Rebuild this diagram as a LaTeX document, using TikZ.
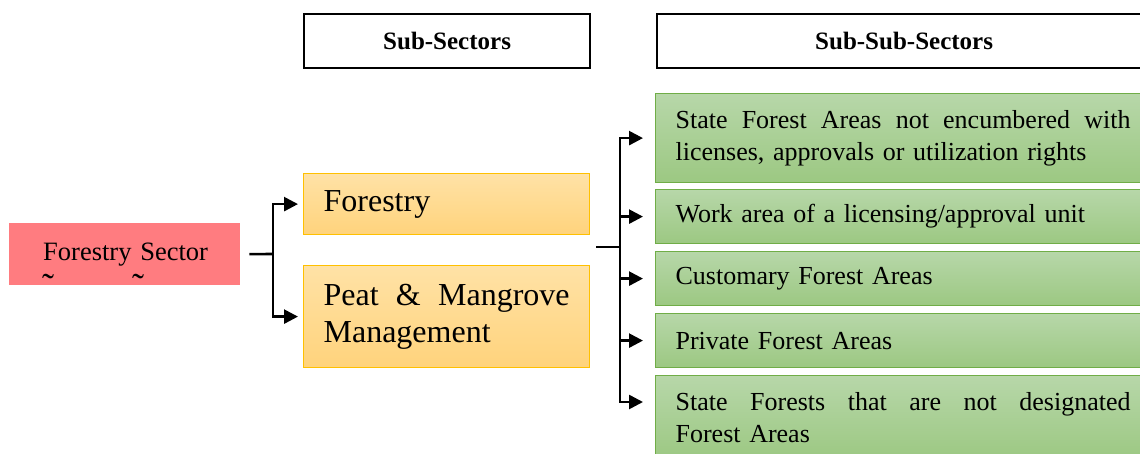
\documentclass[tikz,border=0pt]{standalone}
\usepackage{fontspec}
\setmainfont{Liberation Serif}
\usetikzlibrary{arrows.meta}
\definecolor{sectorred}{HTML}{FF7C80}
\definecolor{orangetop}{HTML}{FFE2A6}
\definecolor{orangebot}{HTML}{FFD37C}
\definecolor{orangeedge}{HTML}{FFC000}
\definecolor{greentop}{HTML}{B7D7A9}
\definecolor{greenbot}{HTML}{9CC882}
\definecolor{greenedge}{HTML}{70AD47}
\tikzset{
  header/.style={draw=black, line width=2.2pt, fill=white, anchor=north west,
    minimum height=54pt, inner sep=0pt, align=center,
    font=\fontsize{25}{30}\selectfont\bfseries},
  subbox/.style={draw=orangeedge, line width=1.2pt, top color=orangetop, bottom color=orangebot,
    anchor=north west, inner xsep=20pt, inner ysep=0pt, text width=246pt, align=left,
    font=\fontsize{32}{37}\selectfont},
  leafbox/.style={draw=greenedge, line width=1.2pt, top color=greentop, bottom color=greenbot,
    anchor=north west, inner xsep=20pt, inner ysep=0pt, text width=455pt, align=left,
    font=\fontsize{26}{32}\selectfont},
  conn/.style={line width=2.6pt},
  branch/.style={line width=2.6pt, -{Triangle[length=14pt,width=14pt]}},
}
\begin{document}
\begin{tikzpicture}[x=1pt, y=-1pt]
\useasboundingbox (0,0) rectangle (1140,453);

% column headings
\node[header, minimum width=286pt] (hsub) at (303,13) {Sub-Sectors};
\node[header, minimum width=494pt] (hsubsub) at (656,13) {Sub-Sub-Sectors};

% sector
\node[fill=sectorred, anchor=north west, minimum width=231pt, minimum height=62pt,
      inner xsep=20pt, inner ysep=0pt, text width=191pt, align=left,
      font=\fontsize{26.5}{32}\selectfont] (sector) at (9,223)
  {\hspace*{14pt}Forestry Sector};
\node[anchor=base west, inner sep=0pt, font=\fontsize{36}{40}\selectfont] (sectortail)
  at (42,298) {\symbol{"02DC}\hspace{78pt}\symbol{"02DC}};

% sub-sectors
\node[subbox, minimum height=61pt] (forestry) at (303,173) {Forestry};
\node[subbox, minimum height=102pt] (peat) at (303,265)
  {Peat\hfill\&\hfill Mangrove\\Management};

% sub-sub-sectors
\node[leafbox, minimum height=89pt] (g1) at (655,93)
  {State\hfill Forest\hfill Areas\hfill not\hfill encumbered\hfill with\\licenses, approvals or utilization rights};
\node[leafbox, minimum height=54pt] (g2) at (655,189) {Work area of a licensing/approval unit};
\node[leafbox, minimum height=54pt] (g3) at (655,251) {Customary Forest Areas};
\node[leafbox, minimum height=54pt] (g4) at (655,313) {Private Forest Areas};
\node[leafbox, minimum height=84pt] (g5) at (655,375)
  {State\hfill Forests\hfill that\hfill are\hfill not\hfill designated\\Forest Areas};

% sector to sub-sectors
\coordinate (j1) at (273,254);
\draw[conn, shorten <=9pt] (sector.east) -- (j1);
\draw[branch, shorten >=5pt] (j1) |- (forestry.west);
\draw[branch, shorten >=5pt] (j1) |- (peat.west);

% sub-sectors to sub-sub-sectors
\coordinate (s2) at (596,247);
\coordinate (j2) at (620,247);
\draw[conn] (s2) -- (j2);
\draw[branch, shorten >=12pt] (j2) |- (g1.west);
\draw[branch, shorten >=12pt] (j2) |- (g2.west);
\draw[branch, shorten >=12pt] (j2) |- (g3.west);
\draw[branch, shorten >=12pt] (j2) |- (g4.west);
\draw[branch, shorten >=12pt] (j2) |- ([yshift=-27pt]g5.north west);
\end{tikzpicture}
\end{document}
